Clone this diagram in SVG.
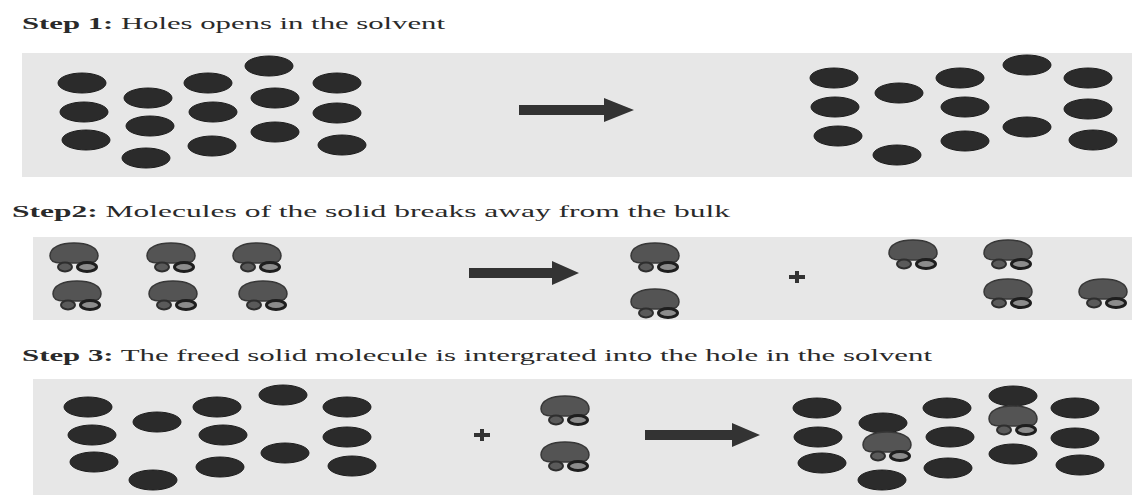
<svg xmlns="http://www.w3.org/2000/svg" xmlns:xlink="http://www.w3.org/1999/xlink" width="1134" height="495" viewBox="0 0 1134 495">
  <style>
    .panel { fill: #e7e7e7; }
    .title { font-family: "Liberation Serif", "Times New Roman", serif; font-size: 16px; fill: #2a2a2a; }
    .title .lbl { font-weight: bold; }
    .sol { fill: #2b2b2b; stroke: #1e1e1e; stroke-width: 1; }
    .blob { fill: #545454; stroke: #383838; stroke-width: 1.5; }
    .tailL { fill: #5a5a5a; stroke: #2e2e2e; stroke-width: 2; }
    .tailR { fill: #8c8c8c; stroke: #1e1e1e; stroke-width: 3; }
    .arrow { fill: #333333; }
    .plus { stroke: #333333; stroke-width: 4; }
  </style>
  <defs>
    <!-- solvent particle -->
    <ellipse id="s" class="sol" cx="0" cy="0" rx="24" ry="10"/>
    <!-- solute molecule: rounded dome with two small rings underneath -->
    <g id="m">
      <path class="blob" d="M -24,1 C -24,-8 -13,-12 0,-12 C 13,-12 24,-8 24,1 C 24,6 19,8 13,8 L -13,8 C -19,8 -24,6 -24,1 Z"/>
      <ellipse class="tailL" cx="-9" cy="12" rx="7" ry="4.5"/>
      <ellipse class="tailR" cx="13" cy="12" rx="9.5" ry="4.5"/>
    </g>
  </defs>

  <rect width="1134" height="495" fill="#ffffff"/>

  <!-- step captions -->
  <g id="captions">
    <text class="title" x="22" y="29" textLength="423" lengthAdjust="spacingAndGlyphs"><tspan class="lbl">Step 1:</tspan> Holes opens in the solvent</text>
    <text class="title" x="12" y="217" textLength="718" lengthAdjust="spacingAndGlyphs"><tspan class="lbl">Step2:</tspan> Molecules of the solid breaks away from the bulk</text>
    <text class="title" x="22" y="361" textLength="910" lengthAdjust="spacingAndGlyphs"><tspan class="lbl">Step 3:</tspan> The freed solid molecule is intergrated into the hole in the solvent</text>
  </g>

  <!-- Step 1 -->
  <g id="step1">
    <rect class="panel" x="22" y="53" width="1110" height="124"/>
    <g id="solvent-full">
      <use xlink:href="#s" x="82" y="83"/><use xlink:href="#s" x="84" y="112"/><use xlink:href="#s" x="86" y="140"/>
      <use xlink:href="#s" x="148" y="98"/><use xlink:href="#s" x="150" y="126"/><use xlink:href="#s" x="146" y="158"/>
      <use xlink:href="#s" x="208" y="83"/><use xlink:href="#s" x="213" y="112"/><use xlink:href="#s" x="212" y="146"/>
      <use xlink:href="#s" x="269" y="66"/><use xlink:href="#s" x="275" y="98"/><use xlink:href="#s" x="275" y="132"/>
      <use xlink:href="#s" x="337" y="83"/><use xlink:href="#s" x="337" y="113"/><use xlink:href="#s" x="342" y="145"/>
    </g>
    <g id="solvent-holes">
      <use xlink:href="#s" x="834" y="78"/><use xlink:href="#s" x="835" y="107"/><use xlink:href="#s" x="838" y="136"/>
      <use xlink:href="#s" x="899" y="93"/><use xlink:href="#s" x="897" y="155"/>
      <use xlink:href="#s" x="960" y="78"/><use xlink:href="#s" x="965" y="107"/><use xlink:href="#s" x="965" y="141"/>
      <use xlink:href="#s" x="1027" y="65"/><use xlink:href="#s" x="1027" y="127"/>
      <use xlink:href="#s" x="1088" y="78"/><use xlink:href="#s" x="1088" y="109"/><use xlink:href="#s" x="1093" y="140"/>
    </g>
  </g>

  <!-- Step 2 -->
  <g id="step2">
    <rect class="panel" x="33" y="237" width="1099" height="83"/>
    <g id="solid-bulk">
      <use xlink:href="#m" x="74" y="255"/><use xlink:href="#m" x="171" y="255"/><use xlink:href="#m" x="257" y="255"/>
      <use xlink:href="#m" x="77" y="293"/><use xlink:href="#m" x="173" y="293"/><use xlink:href="#m" x="263" y="293"/>
    </g>
    <g id="freed-pair">
      <use xlink:href="#m" x="655" y="255"/><use xlink:href="#m" x="655" y="301"/>
    </g>
    <g id="remaining-bulk">
      <use xlink:href="#m" x="913" y="252"/><use xlink:href="#m" x="1008" y="252"/>
      <use xlink:href="#m" x="1008" y="291"/><use xlink:href="#m" x="1103" y="291"/>
    </g>
  </g>

  <!-- Step 3 -->
  <g id="step3">
    <rect class="panel" x="33" y="379" width="1099" height="116"/>
    <g id="solvent-with-holes">
      <use xlink:href="#s" x="88" y="407"/><use xlink:href="#s" x="92" y="435"/><use xlink:href="#s" x="94" y="462"/>
      <use xlink:href="#s" x="157" y="422"/><use xlink:href="#s" x="153" y="480"/>
      <use xlink:href="#s" x="217" y="407"/><use xlink:href="#s" x="223" y="435"/><use xlink:href="#s" x="220" y="467"/>
      <use xlink:href="#s" x="283" y="395"/><use xlink:href="#s" x="285" y="453"/>
      <use xlink:href="#s" x="347" y="407"/><use xlink:href="#s" x="347" y="437"/><use xlink:href="#s" x="352" y="466"/>
    </g>
    <g id="free-molecules">
      <use xlink:href="#m" x="565" y="408"/><use xlink:href="#m" x="565" y="454"/>
    </g>
    <g id="solution">
      <use xlink:href="#s" x="817" y="408"/><use xlink:href="#s" x="818" y="437"/><use xlink:href="#s" x="822" y="463"/>
      <use xlink:href="#s" x="883" y="423"/><use xlink:href="#m" x="887" y="444"/><use xlink:href="#s" x="882" y="480"/>
      <use xlink:href="#s" x="947" y="408"/><use xlink:href="#s" x="950" y="437"/><use xlink:href="#s" x="948" y="468"/>
      <use xlink:href="#s" x="1013" y="396"/><use xlink:href="#m" x="1013" y="418"/><use xlink:href="#s" x="1013" y="454"/>
      <use xlink:href="#s" x="1075" y="408"/><use xlink:href="#s" x="1075" y="438"/><use xlink:href="#s" x="1080" y="465"/>
    </g>
  </g>

  <!-- reaction arrows and plus signs -->
  <g id="connectors">
    <path class="arrow" d="M 519,105 L 604,105 L 604,98 L 634,110 L 604,122 L 604,115 L 519,115 Z"/>
    <path class="arrow" d="M 469,268 L 552,268 L 552,261 L 579,273 L 552,285 L 552,278 L 469,278 Z"/>
    <path class="arrow" d="M 645,430 L 732,430 L 732,423 L 760,435 L 732,447 L 732,440 L 645,440 Z"/>
    <path class="plus" d="M 789,277 H 805 M 797,271 V 283"/>
    <path class="plus" d="M 474,435 H 490 M 482,429 V 441"/>
  </g>
</svg>
